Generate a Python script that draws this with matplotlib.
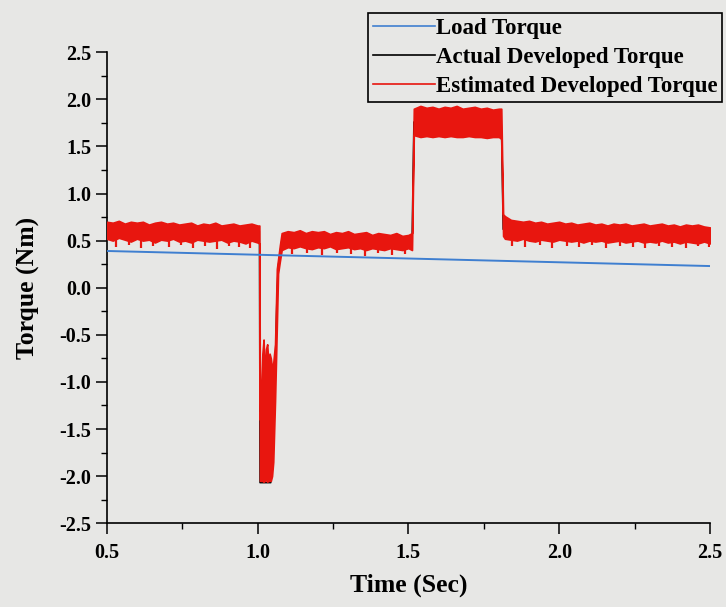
import matplotlib
matplotlib.use("Agg")
import matplotlib.pyplot as plt
from matplotlib.lines import Line2D
from matplotlib.ticker import MultipleLocator, FormatStrFormatter

# ---- data -------------------------------------------------------------
# Load torque (straight line from start to end)
load_t = [0.5, 2.5]
load_val = [0.39, 0.23]

# Estimated developed torque: upper / lower envelope of the ripple band
est_t = [
    0.50, 0.52, 0.54, 0.56, 0.58, 0.60, 0.62, 0.64, 0.66, 0.68, 0.70, 0.72, 0.74,
    0.76, 0.78, 0.80, 0.82, 0.84, 0.86, 0.88, 0.90, 0.92, 0.94, 0.96, 0.98, 1.00,
    1.006, 1.008, 1.012, 1.016, 1.020, 1.024, 1.028, 1.032, 1.036, 1.040, 1.044,
    1.048, 1.052, 1.058, 1.064, 1.068, 1.074, 1.080,
    1.10, 1.12, 1.14, 1.16, 1.18, 1.20, 1.22, 1.24, 1.26, 1.28, 1.30, 1.32, 1.34,
    1.36, 1.38, 1.40, 1.42, 1.44, 1.46, 1.48, 1.50, 1.512,
    1.518, 1.54, 1.56, 1.58, 1.60, 1.62, 1.64, 1.66, 1.68, 1.70, 1.72, 1.74, 1.76,
    1.78, 1.80, 1.808,
    1.814, 1.82, 1.84, 1.86, 1.88, 1.90, 1.92, 1.94, 1.96, 1.98, 2.00, 2.02, 2.04,
    2.06, 2.08, 2.10, 2.12, 2.14, 2.16, 2.18, 2.20, 2.22, 2.24, 2.26, 2.28, 2.30,
    2.32, 2.34, 2.36, 2.38, 2.40, 2.42, 2.44, 2.46, 2.48, 2.50,
]
est_hi = [
    0.70, 0.69, 0.71, 0.68, 0.70, 0.69, 0.70, 0.67, 0.69, 0.70, 0.68, 0.69, 0.67,
    0.68, 0.69, 0.66, 0.68, 0.67, 0.69, 0.66, 0.67, 0.68, 0.66, 0.67, 0.68, 0.66,
    0.66, -1.40, -1.10, -0.70, -0.55, -0.95, -0.65, -0.60, -0.80, -0.70, -0.75,
    -0.85, -0.80, -0.60, 0.20, 0.30, 0.45, 0.58,
    0.60, 0.59, 0.61, 0.58, 0.60, 0.59, 0.60, 0.57, 0.59, 0.58, 0.60, 0.57, 0.58,
    0.59, 0.56, 0.58, 0.57, 0.56, 0.58, 0.55, 0.56, 0.58,
    1.90, 1.93, 1.91, 1.92, 1.90, 1.92, 1.91, 1.93, 1.90, 1.91, 1.92, 1.90, 1.91,
    1.89, 1.90, 1.90,
    0.78, 0.76, 0.72, 0.71, 0.70, 0.71, 0.69, 0.70, 0.68, 0.69, 0.70, 0.68, 0.69,
    0.67, 0.68, 0.69, 0.67, 0.68, 0.66, 0.68, 0.67, 0.68, 0.66, 0.67, 0.68, 0.66,
    0.67, 0.68, 0.66, 0.67, 0.65, 0.67, 0.66, 0.67, 0.65, 0.64,
]
est_lo = [
    0.52, 0.50, 0.53, 0.51, 0.49, 0.52, 0.50, 0.51, 0.48, 0.51, 0.50, 0.52, 0.49,
    0.50, 0.48, 0.51, 0.50, 0.49, 0.50, 0.51, 0.48, 0.50, 0.49, 0.47, 0.50, 0.48,
    0.47, -2.05, -2.05, -2.05, -2.06, -2.05, -2.04, -2.06, -2.05, -2.05, -2.05,
    -2.00, -1.85, -1.20, -0.40, 0.15, 0.28, 0.40,
    0.43, 0.42, 0.44, 0.42, 0.41, 0.43, 0.42, 0.44, 0.41, 0.42, 0.43, 0.41, 0.42,
    0.40, 0.42, 0.41, 0.40, 0.42, 0.41, 0.40, 0.42, 0.40,
    1.62, 1.60, 1.61, 1.60, 1.61, 1.60, 1.61, 1.60, 1.60, 1.61, 1.60, 1.60, 1.59,
    1.60, 1.60, 1.58,
    0.55, 0.52, 0.51, 0.50, 0.52, 0.50, 0.49, 0.51, 0.50, 0.49, 0.51, 0.50, 0.49,
    0.50, 0.48, 0.50, 0.49, 0.50, 0.48, 0.49, 0.50, 0.48, 0.49, 0.50, 0.48, 0.49,
    0.48, 0.50, 0.48, 0.49, 0.47, 0.49, 0.48, 0.47, 0.49, 0.47,
]

# Short downward ripple spikes below the band
spike_t = [
    0.53, 0.575, 0.615, 0.655, 0.705, 0.745, 0.785, 0.825, 0.865, 0.905, 0.94, 0.975,
    1.115, 1.165, 1.215, 1.265, 1.31, 1.355, 1.40, 1.445, 1.49,
    1.845, 1.885, 1.935, 1.975, 2.025, 2.065, 2.11, 2.155, 2.20, 2.245, 2.285,
    2.33, 2.375, 2.42, 2.46, 2.495,
]
spike_lo = [
    0.43, 0.45, 0.42, 0.44, 0.43, 0.45, 0.42, 0.44, 0.41, 0.44, 0.43, 0.42,
    0.36, 0.37, 0.35, 0.37, 0.36, 0.34, 0.37, 0.35, 0.36,
    0.44, 0.43, 0.45, 0.42, 0.44, 0.43, 0.45, 0.42, 0.44, 0.43, 0.42,
    0.44, 0.43, 0.42, 0.44, 0.43,
]

# Actual developed torque, following the estimate through each transient
act_t = [0.50, 1.006, 1.008, 1.044, 1.058, 1.064, 1.068, 1.074, 1.080,
         1.512, 1.518, 1.808, 1.814, 2.50]
act_val = [0.60, 0.60, -2.07, -2.07, -0.90, -0.10, 0.22, 0.36, 0.50,
           0.50, 1.76, 1.76, 0.62, 0.57]

# ---- style ------------------------------------------------------------
BG = "#e7e7e5"
RED = "#e8160f"
BLUE = "#3f7fd0"
SERIF = ["Liberation Serif", "DejaVu Serif"]

plt.rcParams["font.family"] = SERIF
plt.rcParams["font.weight"] = "bold"

fig = plt.figure(figsize=(7.26, 6.07), dpi=100, facecolor=BG)
ax = fig.add_axes([0.147, 0.138, 0.831, 0.776], facecolor=BG)

ax.plot(act_t, act_val, color="black", lw=1.0, zorder=2)
ax.fill_between(est_t, est_lo, est_hi, color=RED, lw=1.2, edgecolor=RED, zorder=3)
ax.vlines(spike_t, spike_lo, 0.55, color=RED, lw=1.6, zorder=3)
ax.plot(load_t, load_val, color=BLUE, lw=1.4, zorder=4)

ax.set_xlim(0.5, 2.5)
ax.set_ylim(-2.5, 2.5)
ax.xaxis.set_major_locator(MultipleLocator(0.5))
ax.xaxis.set_minor_locator(MultipleLocator(0.25))
ax.yaxis.set_major_locator(MultipleLocator(0.5))
ax.yaxis.set_minor_locator(MultipleLocator(0.25))
ax.xaxis.set_major_formatter(FormatStrFormatter("%.1f"))
ax.yaxis.set_major_formatter(FormatStrFormatter("%.1f"))

for side in ("top", "right"):
    ax.spines[side].set_visible(False)
for side in ("left", "bottom"):
    ax.spines[side].set_linewidth(1.2)

ax.tick_params(axis="both", which="major", direction="out", length=8, width=1.1,
               labelsize=14.5)
ax.tick_params(axis="x", which="major", pad=6)
ax.tick_params(axis="y", which="major", pad=3)
ax.tick_params(axis="both", which="minor", direction="out", length=4, width=1.0)
for lbl in ax.get_xticklabels() + ax.get_yticklabels():
    lbl.set_fontweight("bold")

ax.set_xlabel("Time (Sec)", fontsize=18.5, fontweight="bold", labelpad=8)
ax.set_ylabel("Torque (Nm)", fontsize=18.5, fontweight="bold", labelpad=14)

handles = [
    Line2D([], [], color=BLUE, lw=1.2),
    Line2D([], [], color="black", lw=1.2),
    Line2D([], [], color=RED, lw=1.2),
]
labels = ["Load Torque", "Actual Developed Torque", "Estimated Developed Torque"]
leg = fig.legend(handles, labels, loc="upper right",
                 bbox_to_anchor=(0.995, 0.979), bbox_transform=fig.transFigure,
                 frameon=True, fancybox=False, edgecolor="black", facecolor=BG,
                 framealpha=1.0, handlelength=2.7, handletextpad=0.05,
                 labelspacing=0.36, borderpad=0.22, borderaxespad=0.0,
                 prop={"family": SERIF, "weight": "bold", "size": 16.5})
leg.get_frame().set_linewidth(1.2)

fig.savefig("out.png", dpi=100, facecolor=BG)
